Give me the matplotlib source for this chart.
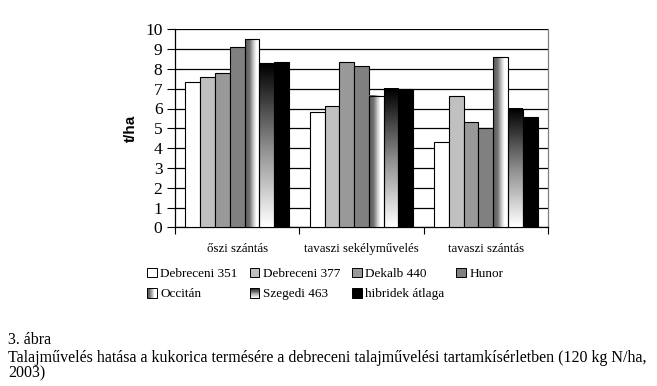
import numpy as np
import matplotlib
matplotlib.use("Agg")
import matplotlib.pyplot as plt
from matplotlib.patches import Rectangle
from matplotlib.legend_handler import HandlerBase
from matplotlib.colors import LinearSegmentedColormap

categories = ["őszi szántás", "tavaszi sekélyművelés", "tavaszi szántás"]
series_names = ["Debreceni 351", "Debreceni 377", "Dekalb 440", "Hunor",
                "Occitán", "Szegedi 463", "hibridek átlaga"]
debreceni_351 = [7.35, 5.84, 4.32]
debreceni_377 = [7.57, 6.11, 6.65]
dekalb_440 = [7.81, 8.33, 5.33]
hunor = [9.10, 8.13, 5.01]
occitan = [9.49, 6.65, 8.58]
szegedi_463 = [8.28, 7.00, 5.97]
hibridek_atlaga = [8.33, 7.00, 5.58]
values = [debreceni_351, debreceni_377, dekalb_440, hunor, occitan, szegedi_463, hibridek_atlaga]
yticks = list(range(0, 11))

fills = ["#ffffff", "#c0c0c0", "#999999", "#808080", "hgrad", "vgrad", "#000000"]

serif = "Liberation Serif"
plt.rcParams["font.family"] = [serif, "DejaVu Serif"]

hcmap = LinearSegmentedColormap.from_list(
    "h", [(0, "#5a5a5a"), (0.3, "#707070"), (0.62, "#d8d8d8"), (0.78, "#ffffff"), (1, "#ffffff")])
vcmap = LinearSegmentedColormap.from_list(
    "v", [(0, "#000000"), (0.5, "#8a8a8a"), (1, "#ffffff")])

fig = plt.figure(figsize=(6.57, 3.86), dpi=100)
ax = fig.add_axes([175 / 657, 1 - 227.3 / 386, (548 - 175) / 657, (227.3 - 29.3) / 386])

n = len(series_names)
group_w = 0.833
bw = group_w / n
centers = np.arange(len(categories)) + 0.5

for i, (name, vals, fc) in enumerate(zip(series_names, values, fills)):
    xs = centers - group_w / 2 + bw * (i + 0.5)
    if fc in ("hgrad", "vgrad"):
        bars = ax.bar(xs, vals, width=bw, facecolor="none", edgecolor="black",
                      linewidth=0.8, zorder=4, label=name)
        for p in bars.patches:
            x0, w, h = p.get_x(), p.get_width(), p.get_height()
            if fc == "hgrad":
                img = np.linspace(0, 1, 64)[None, :]
                cm = hcmap
            else:
                img = np.linspace(0, 1, 64)[:, None]
                cm = vcmap
            ax.imshow(img, cmap=cm, vmin=0, vmax=1, extent=[x0, x0 + w, 0, h],
                      origin="upper", aspect="auto", zorder=3, interpolation="bilinear")
    else:
        ax.bar(xs, vals, width=bw, facecolor=fc, edgecolor="black",
               linewidth=0.8, zorder=3, label=name)

ax.set_xlim(0, 3)
ax.set_ylim(0, 10)
ax.set_yticks(yticks)
ax.set_yticklabels([str(t) for t in yticks], fontsize=12.5)
ax.yaxis.grid(True, color="black", linewidth=0.9, zorder=1)
ax.set_axisbelow(True)
ax.set_xticks([0, 1, 2, 3])
ax.set_xticklabels([])
ax.set_xticks(centers, minor=True)
ax.set_xticklabels(categories, minor=True, fontsize=9.3)
ax.tick_params(axis="x", which="minor", length=0, pad=11)
ax.tick_params(axis="x", which="major", length=5, width=0.8, direction="out")
ax.tick_params(axis="y", length=6, width=0.8, direction="out", pad=3)
for s in ["left", "bottom"]:
    ax.spines[s].set_color("black")
    ax.spines[s].set_linewidth(0.9)
ax.spines["top"].set_visible(False)
ax.spines["right"].set_color("#808080")
ax.spines["right"].set_linewidth(0.9)

ax.set_ylabel("t/ha", fontfamily="Liberation Sans", fontweight="bold", fontsize=11)
ax.yaxis.set_label_coords(-(175 - 138) / 373, 0.5)


class GradHandler(HandlerBase):
    def __init__(self, kind):
        super().__init__()
        self.kind = kind

    def create_artists(self, legend, orig_handle, xdescent, ydescent, width, height, fontsize, trans):
        arts = []
        s = height
        x0 = -xdescent + (width - s)
        y0 = -ydescent
        k = 12
        for j in range(k):
            t = (j + 0.5) / k
            if self.kind == "hgrad":
                c = hcmap(t)
                r = Rectangle((x0 + s * j / k, y0), s / k, s, facecolor=c, edgecolor="none", transform=trans)
            else:
                c = vcmap(t)
                r = Rectangle((x0, y0 + s - s * (j + 1) / k), s, s / k, facecolor=c, edgecolor="none", transform=trans)
            arts.append(r)
        arts.append(Rectangle((x0, y0), s, s, facecolor="none", edgecolor="black", linewidth=0.7, transform=trans))
        return arts


class SquareHandler(HandlerBase):
    def __init__(self, color):
        super().__init__()
        self.color = color

    def create_artists(self, legend, orig_handle, xdescent, ydescent, width, height, fontsize, trans):
        s = height
        x0 = -xdescent + (width - s)
        return [Rectangle((x0, -ydescent), s, s, facecolor=self.color, edgecolor="black",
                          linewidth=0.7, transform=trans)]


handles = [Rectangle((0, 0), 1, 1) for _ in series_names]
handler_map = {}
for h, fc in zip(handles, fills):
    handler_map[h] = GradHandler(fc) if fc in ("hgrad", "vgrad") else SquareHandler(fc)

order = [0, 4, 1, 5, 2, 6, 3]
leg = fig.legend([handles[i] for i in order], [series_names[i] for i in order],
                 handler_map=handler_map, ncol=4, loc="upper left",
                 bbox_to_anchor=(147 / 657, 1 - 267.5 / 386), frameon=False,
                 fontsize=9.5, handlelength=0.75, handleheight=0.75, handletextpad=0.25,
                 columnspacing=0.9, labelspacing=0.6, borderaxespad=0, borderpad=0)

cap_fs = 11.5
fig.text(8 / 657, 1 - 340 / 386, "3. ábra", fontsize=cap_fs, va="center", ha="left")
fig.text(8 / 657, 1 - 357.5 / 386,
         "Talajművelés hatása a kukorica termésére a debreceni talajművelési tartamkísérletben (120 kg N/ha,",
         fontsize=cap_fs, va="center", ha="left")
fig.text(8 / 657, 1 - 373.5 / 386, "2003)", fontsize=cap_fs, va="center", ha="left")

fig.savefig("out.png", dpi=100)
